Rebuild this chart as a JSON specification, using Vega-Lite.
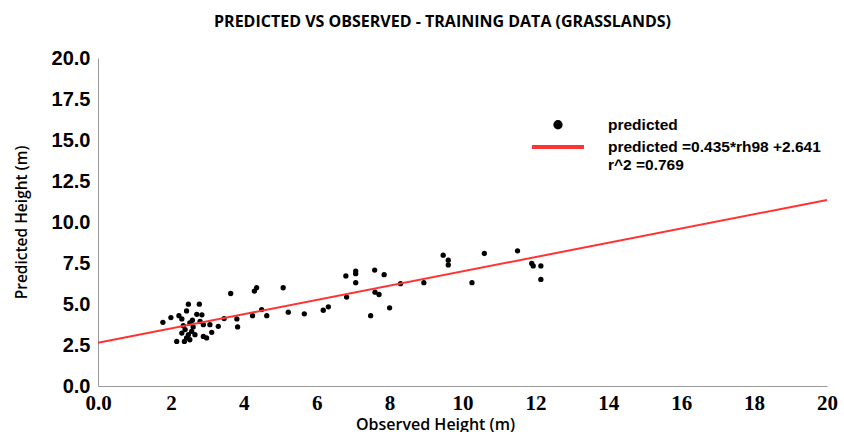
{
  "$schema": "https://vega.github.io/schema/vega-lite/v6.json",
  "width": 729,
  "height": 328,
  "autosize": "none",
  "padding": {"left": 98, "top": 58, "right": 17, "bottom": 46},
  "background": "white",
  "title": {
    "text": "PREDICTED VS OBSERVED - TRAINING DATA (GRASSLANDS)",
    "font": "Open Sans",
    "fontSize": 16,
    "fontWeight": "bold",
    "color": "black",
    "anchor": "middle",
    "dx": -20,
    "offset": 18
  },
  "config": {"view": {"stroke": null}},
  "data": {
    "values": [
      {"series": "predicted", "obs": 1.78, "pred": 3.88},
      {"series": "predicted", "obs": 2.0, "pred": 4.17},
      {"series": "predicted", "obs": 2.22, "pred": 4.29},
      {"series": "predicted", "obs": 2.48, "pred": 4.99},
      {"series": "predicted", "obs": 2.78, "pred": 4.99},
      {"series": "predicted", "obs": 2.43, "pred": 4.58},
      {"series": "predicted", "obs": 2.71, "pred": 4.37},
      {"series": "predicted", "obs": 2.85, "pred": 4.34},
      {"series": "predicted", "obs": 2.3, "pred": 4.09},
      {"series": "predicted", "obs": 2.59, "pred": 4.01},
      {"series": "predicted", "obs": 2.52, "pred": 3.85},
      {"series": "predicted", "obs": 2.8, "pred": 3.94},
      {"series": "predicted", "obs": 2.89, "pred": 3.74},
      {"series": "predicted", "obs": 2.34, "pred": 3.68},
      {"series": "predicted", "obs": 2.61, "pred": 3.6},
      {"series": "predicted", "obs": 2.39, "pred": 3.44},
      {"series": "predicted", "obs": 2.57, "pred": 3.33},
      {"series": "predicted", "obs": 2.3, "pred": 3.23},
      {"series": "predicted", "obs": 2.48, "pred": 3.13},
      {"series": "predicted", "obs": 2.66, "pred": 3.13},
      {"series": "predicted", "obs": 2.89, "pred": 3.02},
      {"series": "predicted", "obs": 2.98, "pred": 2.93},
      {"series": "predicted", "obs": 2.43, "pred": 2.93},
      {"series": "predicted", "obs": 2.52, "pred": 2.82},
      {"series": "predicted", "obs": 2.16, "pred": 2.72},
      {"series": "predicted", "obs": 2.37, "pred": 2.72},
      {"series": "predicted", "obs": 3.12, "pred": 3.27},
      {"series": "predicted", "obs": 3.07, "pred": 3.74},
      {"series": "predicted", "obs": 3.3, "pred": 3.64},
      {"series": "predicted", "obs": 3.46, "pred": 4.11},
      {"series": "predicted", "obs": 3.81, "pred": 4.09},
      {"series": "predicted", "obs": 3.83, "pred": 3.6},
      {"series": "predicted", "obs": 4.24, "pred": 4.29},
      {"series": "predicted", "obs": 4.49, "pred": 4.66},
      {"series": "predicted", "obs": 4.63, "pred": 4.29},
      {"series": "predicted", "obs": 3.64, "pred": 5.64},
      {"series": "predicted", "obs": 4.29, "pred": 5.79},
      {"series": "predicted", "obs": 4.35, "pred": 5.99},
      {"series": "predicted", "obs": 5.08, "pred": 5.99},
      {"series": "predicted", "obs": 5.22, "pred": 4.5},
      {"series": "predicted", "obs": 5.66, "pred": 4.4},
      {"series": "predicted", "obs": 6.18, "pred": 4.62},
      {"series": "predicted", "obs": 6.32, "pred": 4.83},
      {"series": "predicted", "obs": 6.8, "pred": 6.71},
      {"series": "predicted", "obs": 7.07, "pred": 7.01},
      {"series": "predicted", "obs": 7.07, "pred": 6.85},
      {"series": "predicted", "obs": 7.07, "pred": 6.3},
      {"series": "predicted", "obs": 6.82, "pred": 5.42},
      {"series": "predicted", "obs": 7.59, "pred": 7.07},
      {"series": "predicted", "obs": 7.85, "pred": 6.79},
      {"series": "predicted", "obs": 7.6, "pred": 5.72},
      {"series": "predicted", "obs": 7.71, "pred": 5.58},
      {"series": "predicted", "obs": 7.48, "pred": 4.29},
      {"series": "predicted", "obs": 8.0, "pred": 4.77},
      {"series": "predicted", "obs": 8.3, "pred": 6.24},
      {"series": "predicted", "obs": 8.94, "pred": 6.3},
      {"series": "predicted", "obs": 9.47, "pred": 7.98},
      {"series": "predicted", "obs": 9.61, "pred": 7.67},
      {"series": "predicted", "obs": 9.61, "pred": 7.38},
      {"series": "predicted", "obs": 10.6, "pred": 8.08},
      {"series": "predicted", "obs": 11.51, "pred": 8.24},
      {"series": "predicted", "obs": 11.9, "pred": 7.47},
      {"series": "predicted", "obs": 11.94, "pred": 7.32},
      {"series": "predicted", "obs": 12.15, "pred": 7.32},
      {"series": "predicted", "obs": 12.15, "pred": 6.5},
      {"series": "predicted", "obs": 10.26, "pred": 6.3},
      {"series": "fit", "obs": 0, "pred": 2.641},
      {"series": "fit", "obs": 20, "pred": 11.341}
    ]
  },
  "encoding": {
    "x": {
      "field": "obs",
      "type": "quantitative",
      "scale": {"domain": [0, 20], "nice": false},
      "axis": {
        "title": "Observed Height (m)",
        "values": [0, 2, 4, 6, 8, 10, 12, 14, 16, 18, 20],
        "labelExpr": "datum.value == 0 ? '0.0' : datum.label",
        "grid": false,
        "ticks": false,
        "domainColor": "#999999",
        "labelFont": "Liberation Sans Narrow",
        "labelFontSize": 21,
        "labelFontWeight": "bold",
        "labelColor": "black",
        "labelPadding": 6,
        "labelFlush": false,
        "titleFont": "Open Sans",
        "titleFontSize": 16,
        "titleFontWeight": 600,
        "titleColor": "black",
        "titleX": 337,
        "titlePadding": 3
      }
    },
    "y": {
      "field": "pred",
      "type": "quantitative",
      "scale": {"domain": [0, 20], "nice": false},
      "axis": {
        "title": "Predicted Height (m)",
        "values": [0, 2.5, 5, 7.5, 10, 12.5, 15, 17.5, 20],
        "format": ".1f",
        "grid": false,
        "ticks": false,
        "domainColor": "#999999",
        "labelFont": "Liberation Sans",
        "labelFontSize": 20,
        "labelFontWeight": "bold",
        "labelColor": "black",
        "labelPadding": 8,
        "labelFlush": false,
        "titleFont": "Open Sans",
        "titleFontSize": 15.5,
        "titleFontWeight": 600,
        "titleColor": "black",
        "titlePadding": 22
      }
    },
    "color": {
      "field": "series",
      "type": "nominal",
      "scale": {"domain": ["predicted", "fit"], "range": ["black", "#ff3333"]},
      "legend": {
        "title": null,
        "orient": "none",
        "legendX": 449,
        "legendY": 59,
        "labelFont": "Liberation Sans",
        "labelFontSize": 15.5,
        "labelFontWeight": "bold",
        "labelColor": "black",
        "labelOffset": 39,
        "labelLimit": 400,
        "symbolStrokeWidth": 4,
        "rowPadding": -2,
        "labelExpr": "datum.value == 'fit' ? ['predicted =0.435*rh98 +2.641', 'r^2 =0.769'] : datum.label"
      }
    }
  },
  "layer": [
    {
      "transform": [{"filter": "datum.series == 'predicted'"}],
      "mark": {"type": "point", "filled": true, "opacity": 1},
      "encoding": {
        "shape": {
          "field": "series",
          "type": "nominal",
          "scale": {"domain": ["predicted", "fit"], "range": ["circle", "M-3,0H3"]},
          "legend": null
        },
        "size": {
          "field": "series",
          "type": "nominal",
          "scale": {"domain": ["predicted", "fit"], "range": [28, 300]},
          "legend": null
        }
      }
    },
    {
      "transform": [{"filter": "datum.series == 'fit'"}],
      "mark": {"type": "line", "strokeWidth": 2},
      "encoding": {}
    }
  ]
}
